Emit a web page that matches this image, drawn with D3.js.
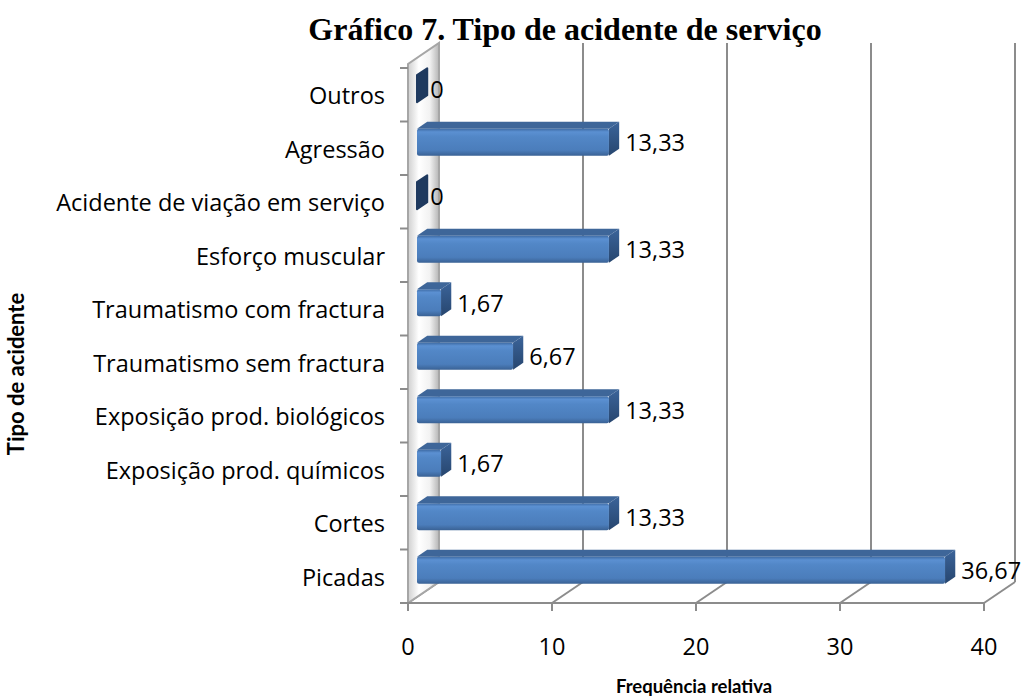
<!DOCTYPE html>
<html>
<head>
<meta charset="utf-8">
<script src="https://cdn.jsdelivr.net/npm/d3@7"></script>
<style>
  html, body { margin: 0; padding: 0; background: #ffffff; }
  svg { display: block; }
</style>
</head>
<body>
<svg id="chart" width="1027" height="700"></svg>
<script>
// ---- data (top to bottom as shown) ----
const categories = [
  "Outros",
  "Agressão",
  "Acidente de viação em serviço",
  "Esforço muscular",
  "Traumatismo com fractura",
  "Traumatismo sem fractura",
  "Exposição prod. biológicos",
  "Exposição prod. químicos",
  "Cortes",
  "Picadas"
];
const values = [0, 13.33, 0, 13.33, 1.67, 6.67, 13.33, 1.67, 13.33, 36.67];
const valueLabels = ["0", "13,33", "0", "13,33", "1,67", "6,67", "13,33", "1,67", "13,33", "36,67"];
const xTicks = [0, 10, 20, 30, 40];
const titleText = "Gráfico 7. Tipo de acidente de serviço";
const xTitle = "Frequência relativa";
const yTitle = "Tipo de acidente";

// ---- layout ----
const svg = d3.select("#chart");
const frontLeft = 408, frontRight = 984, frontBottom = 603, frontTop = 68;
const depthX = 31, depthY = -21;      // full depth offset of the plot box
const f1 = 0.29, f2 = 0.62;           // bar front / back depth fractions
const barFrac = 0.505;                // bar thickness relative to band

const x = d3.scaleLinear().domain([0, 40]).range([frontLeft, frontRight]);
const y = d3.scaleBand().domain(categories).range([frontTop, frontBottom]);
const bw = y.bandwidth();
const font = "'Open Sans', Lato, sans-serif";
const boldFont = "Lato, 'Open Sans', sans-serif";
const labelSize = 23.5;

const defs = svg.append("defs");
const wallGrad = defs.append("linearGradient").attr("id", "wallGrad")
  .attr("x1", "0").attr("x2", "1").attr("y1", "0").attr("y2", "0");
[["0%", "#cfcfcf"], ["35%", "#ffffff"], ["70%", "#f2f2f2"], ["100%", "#b5b5b5"]]
  .forEach(([o, c]) => wallGrad.append("stop").attr("offset", o).attr("stop-color", c));

const frontGrad = defs.append("linearGradient").attr("id", "frontGrad")
  .attr("x1", "0").attr("x2", "0").attr("y1", "0").attr("y2", "1");
[["0%", "#3d6aa3"], ["12%", "#5b90d2"], ["30%", "#5287c7"], ["80%", "#4b7dbb"], ["100%", "#3a6295"]]
  .forEach(([o, c]) => frontGrad.append("stop").attr("offset", o).attr("stop-color", c));

const sideGrad = defs.append("linearGradient").attr("id", "sideGrad")
  .attr("x1", "0").attr("x2", "0").attr("y1", "0").attr("y2", "1");
[["0%", "#3b649a"], ["100%", "#27466f"]]
  .forEach(([o, c]) => sideGrad.append("stop").attr("offset", o).attr("stop-color", c));

const gridColor = "#8c8c8c";

// ---- back wall gridlines ----
const g = svg.append("g");
g.selectAll("line.grid").data(xTicks.filter(d => d > 0)).join("line")
  .attr("x1", d => x(d) + depthX).attr("x2", d => x(d) + depthX)
  .attr("y1", frontBottom + depthY).attr("y2", frontTop + depthY - 4)
  .attr("stroke", gridColor).attr("stroke-width", 2);

// floor diagonals
g.selectAll("line.floor").data(xTicks).join("line")
  .attr("x1", d => x(d)).attr("x2", d => x(d) + depthX)
  .attr("y1", frontBottom).attr("y2", frontBottom + depthY)
  .attr("stroke", gridColor).attr("stroke-width", 2);

// left wall
const wallTop = frontTop - 4;
g.append("path")
  .attr("d", `M${frontLeft},${frontBottom} L${frontLeft},${wallTop} L${frontLeft + depthX},${wallTop + depthY} L${frontLeft + depthX},${frontBottom + depthY} Z`)
  .attr("fill", "url(#wallGrad)").attr("stroke", "#a6a6a6").attr("stroke-width", 2);

// floor front edge
g.append("line").attr("x1", frontLeft).attr("x2", frontRight)
  .attr("y1", frontBottom).attr("y2", frontBottom)
  .attr("stroke", gridColor).attr("stroke-width", 2);

// x ticks
g.selectAll("line.xt").data(xTicks).join("line")
  .attr("x1", d => x(d)).attr("x2", d => x(d))
  .attr("y1", frontBottom).attr("y2", frontBottom + 8)
  .attr("stroke", gridColor).attr("stroke-width", 2);

// category ticks
const bounds = categories.map(c => y(c)).concat([frontBottom]);
g.selectAll("line.yt").data(bounds).join("line")
  .attr("x1", frontLeft - 8).attr("x2", frontLeft)
  .attr("y1", d => d).attr("y2", d => d)
  .attr("stroke", gridColor).attr("stroke-width", 2);

// ---- bars ----
const dx1 = depthX * f1, dy1 = depthY * f1;
const ddx = depthX * (f2 - f1), ddy = depthY * (f2 - f1);
const bars = svg.append("g");
categories.forEach((c, i) => {
  const v = values[i];
  const cy = y(c) + bw / 2 + dy1;
  const h = bw * barFrac;
  const x0 = x(0) + dx1, x1 = x(v) + dx1;
  const yt = cy - h / 2, yb = cy + h / 2;
  const bg = bars.append("g");
  if (v > 0) {
    bg.append("path")
      .attr("d", `M${x0},${yt} L${x0 + ddx},${yt + ddy} L${x1 + ddx},${yt + ddy} L${x1},${yt} Z`)
      .attr("fill", "#3e6699");
    bg.append("rect").attr("x", x0).attr("y", yt).attr("width", x1 - x0).attr("height", h)
      .attr("fill", "url(#frontGrad)").attr("rx", 2);
    bg.append("path")
      .attr("d", `M${x1},${yt} L${x1 + ddx},${yt + ddy} L${x1 + ddx},${yb + ddy} L${x1},${yb} Z`)
      .attr("fill", "url(#sideGrad)");
  } else {
    bg.append("path")
      .attr("d", `M${x1},${yt} L${x1 + ddx},${yt + ddy} L${x1 + ddx},${yb + ddy} L${x1},${yb} Z`)
      .attr("fill", "#1f3a5f").attr("stroke", "#1f3a5f").attr("stroke-width", 2)
      .attr("stroke-linejoin", "round");
  }
  bars.append("text")
    .attr("x", x1 + ddx + (v > 0 ? 6 : 3))
    .attr("y", cy + 3)
    .attr("dominant-baseline", "middle")
    .attr("font-family", font).attr("font-size", labelSize).attr("fill", "#000")
    .text(valueLabels[i]);
});

// ---- category labels ----
svg.append("g").selectAll("text").data(categories).join("text")
  .attr("x", 385).attr("y", d => y(d) + bw / 2 + 3)
  .attr("text-anchor", "end").attr("dominant-baseline", "middle")
  .attr("font-family", font).attr("font-size", labelSize).attr("fill", "#000")
  .text(d => d);

// ---- x tick labels ----
svg.append("g").selectAll("text").data(xTicks).join("text")
  .attr("x", d => x(d)).attr("y", 649)
  .attr("text-anchor", "middle").attr("dominant-baseline", "middle")
  .attr("font-family", font).attr("font-size", labelSize).attr("fill", "#000")
  .text(d => d);

// ---- titles ----
svg.append("text").attr("x", 565).attr("y", 40).attr("text-anchor", "middle")
  .attr("font-family", "'Liberation Serif', 'Times New Roman', serif")
  .attr("font-weight", "bold").attr("font-size", 32).text(titleText);

svg.append("text").attr("x", 694).attr("y", 688).attr("text-anchor", "middle")
  .attr("dominant-baseline", "middle")
  .attr("font-family", boldFont).attr("font-weight", "bold").attr("font-size", 18.5).text(xTitle);

svg.append("text").attr("transform", "translate(18,374) rotate(-90)")
  .attr("text-anchor", "middle").attr("dominant-baseline", "middle")
  .attr("font-family", boldFont).attr("font-weight", "bold").attr("font-size", 22).text(yTitle);
</script>
</body>
</html>
